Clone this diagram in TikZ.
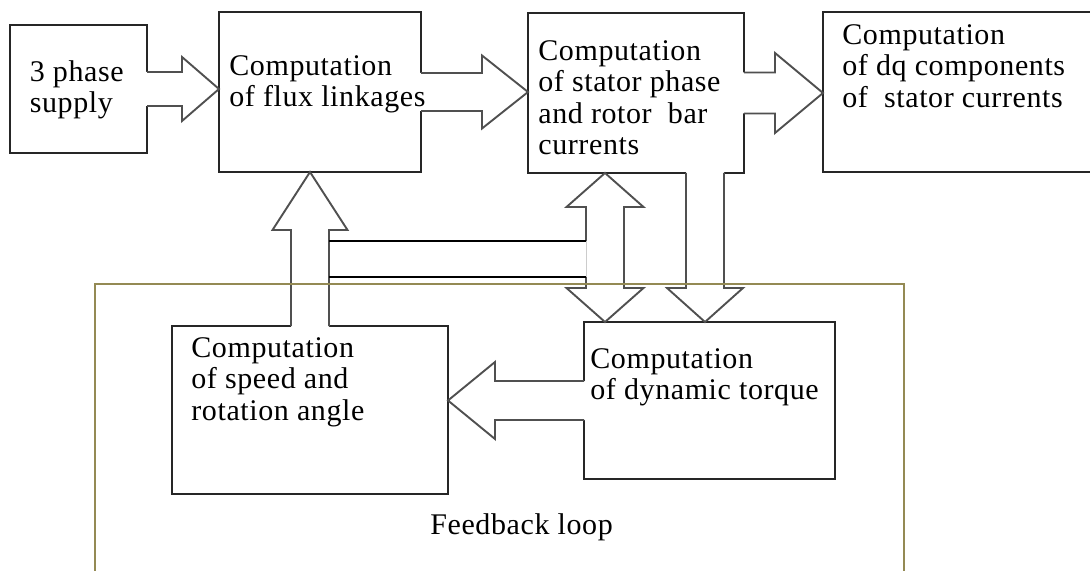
\documentclass[tikz,border=0pt]{standalone}
\usepackage{fontspec}
\setmainfont{Liberation Serif}[LetterSpace=2.0]
\usetikzlibrary{calc}
\definecolor{loopcol}{RGB}{148, 138, 84}
\definecolor{arrcol}{RGB}{80, 80, 80}
\tikzset{
  block/.style={draw=black!85, line width=0.8pt, inner sep=0pt, outer sep=0pt},
  blocktext/.style={anchor=north west, inner sep=0pt, align=left,
                    font=\fontsize{15}{15.7}\selectfont},
  fat/.style={draw=arrcol, line width=0.95pt, line join=miter},
  loopframe/.style={draw=loopcol, line width=0.9pt, inner sep=0pt, outer sep=0pt},
}
% hollow block arrow: tail, tip, half shaft, half head, head length
\newcommand{\barrow}[5]{%
  \coordinate (b-t) at ($(#1)!-1pt!(#2)$);
  \coordinate (b-c) at ($(#2)!#5!(#1)$);
  \fill[white] ($(b-t)!#3!90:(#2)$) -- ($(b-c)!#3!90:(#2)$) -- ($(b-c)!#4!90:(#2)$) -- (#2)
    -- ($(b-c)!#4!-90:(#2)$) -- ($(b-c)!#3!-90:(#2)$) -- ($(b-t)!#3!-90:(#2)$) -- cycle;
  \draw[fat] ($(#1)!#3!90:(#2)$) -- ($(b-c)!#3!90:(#2)$) -- ($(b-c)!#4!90:(#2)$) -- (#2)
    -- ($(b-c)!#4!-90:(#2)$) -- ($(b-c)!#3!-90:(#2)$) -- ($(#1)!#3!-90:(#2)$);
}
% same, with a head at both ends
\newcommand{\dbarrow}[5]{%
  \coordinate (b-c1) at ($(#1)!#5!(#2)$);
  \coordinate (b-c2) at ($(#2)!#5!(#1)$);
  \filldraw[fat, fill=white] (#1) -- ($(b-c1)!#4!90:(#2)$) -- ($(b-c1)!#3!90:(#2)$)
    -- ($(b-c2)!#3!-90:(#1)$) -- ($(b-c2)!#4!-90:(#1)$) -- (#2)
    -- ($(b-c2)!#4!90:(#1)$) -- ($(b-c2)!#3!90:(#1)$)
    -- ($(b-c1)!#3!-90:(#2)$) -- ($(b-c1)!#4!-90:(#2)$) -- cycle;
}

\begin{document}
\begin{tikzpicture}[x=0.5pt, y=-0.5pt]
  \useasboundingbox (0,0) rectangle (1090,571);
  \clip (0,0) rectangle (1090,571);

  % blocks
  \node[block, minimum width=68.5pt, minimum height=64pt] (sup) at (78.5,89) {};
  \node[block, minimum width=101pt, minimum height=80pt] (flux) at (320,92) {};
  \node[block, minimum width=108pt, minimum height=80pt] (stator) at (636,93) {};
  \node[block, minimum width=138.5pt, minimum height=80pt] (dq) at (961.5,92) {};
  \node[block, minimum width=138pt, minimum height=84pt] (speed) at (310,410) {};
  \node[block, minimum width=125.5pt, minimum height=78.5pt] (torque) at (709.5,400.5) {};

  \coordinate (ax1) at (605,0);
  \coordinate (ax2) at (705,0);

  % block arrows
  \barrow{sup.east}{flux.west |- sup.east}{8.5pt}{16pt}{18.5pt}
  \barrow{flux.east}{stator.west |- flux.east}{9.5pt}{18.25pt}{23pt}
  \barrow{stator.east}{dq.west |- stator.east}{10.25pt}{20pt}{24pt}
  \barrow{speed.north}{speed.north |- flux.south}{9.5pt}{18.75pt}{29pt}
  \barrow{torque.west}{speed.east |- torque.west}{9.75pt}{19.25pt}{23.5pt}
  \dbarrow{ax1 |- stator.south}{ax1 |- torque.north}{9.5pt}{19.25pt}{17pt}
  \barrow{ax2 |- stator.south}{ax2 |- torque.north}{9.5pt}{19pt}{17pt}

  % band between the two shafts
  \coordinate (bandL) at ($(speed.north)+(9.5pt,0)$);
  \coordinate (bandR) at ($(ax1)+(-9.5pt,0)$);
  \fill[white] ([xshift=0.5pt]bandL |- 0,241) rectangle ([xshift=0.8pt]bandR |- 0,277);
  \draw[black!20, line width=0.4pt] (bandR |- 0,241) -- (bandR |- 0,277);
  \draw[line width=0.7pt] (bandL |- 0,241) -- (bandR |- 0,241)
                          (bandL |- 0,277) -- (bandR |- 0,277);

  % feedback loop frame
  \node[loopframe, minimum width=404.5pt, minimum height=168pt] (loop) at (499.5,452) {};

  % texts
  \node[blocktext] (sup-t) at ($(sup.north west)+(19.5,35)$) {3 phase\\supply};
  \node[blocktext] (flux-t) at ($(flux.north west)+(10,43)$) {Computation\\of flux linkages};
  \node[blocktext] (stator-t) at ($(stator.north west)+(10,27)$)
    {Computation\\of stator phase\\and rotor~~bar\\currents};
  \node[blocktext] (dq-t) at ($(dq.north west)+(19,12)$)
    {Computation\\of dq components\\of~~stator currents};
  \node[blocktext] (speed-t) at ($(speed.north west)+(19,11)$)
    {Computation\\of speed and\\rotation angle};
  \node[blocktext] (torque-t) at ($(torque.north west)+(6,26)$)
    {Computation\\of dynamic torque};
  \node[blocktext] (loop-t) at ($(loop.north west)+(335,229)$) {Feedback loop};
\end{tikzpicture}
\end{document}
